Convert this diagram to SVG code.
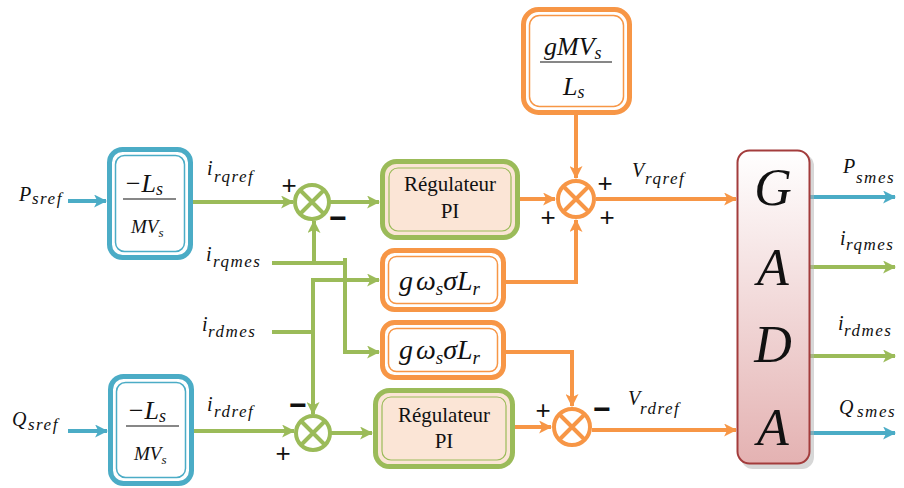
<svg xmlns="http://www.w3.org/2000/svg" width="904" height="488" viewBox="0 0 904 488">
<defs>
<style>
.m{font-style:italic;fill:#111}
.r{fill:#111}
.sg{font-family:'Liberation Sans',Arial,sans-serif;fill:#111;font-size:26px;text-anchor:middle}
.mn{font-family:'Liberation Sans',Arial,sans-serif;fill:#111;font-size:30px;text-anchor:middle;font-weight:bold}
.sub{letter-spacing:1.5px}
.cb{fill:none;stroke:#4bacc6;stroke-width:4}
.cg{fill:none;stroke:#9bbb59;stroke-width:4}
.co{fill:none;stroke:#f79646;stroke-width:4}
</style>
<linearGradient id="gada" x1="0" y1="0" x2="0" y2="1">
<stop offset="0" stop-color="#ffffff"/>
<stop offset="1" stop-color="#e4b2b2"/>
</linearGradient>
<marker id="ab" viewBox="0 0 12 12" refX="11" refY="6" markerWidth="13" markerHeight="13" markerUnits="userSpaceOnUse" orient="auto"><path d="M0,0 L12,6 L0,12 L3,6z" fill="#4bacc6"/></marker>
<marker id="ag" viewBox="0 0 12 12" refX="11" refY="6" markerWidth="13" markerHeight="13" markerUnits="userSpaceOnUse" orient="auto"><path d="M0,0 L12,6 L0,12 L3,6z" fill="#9bbb59"/></marker>
<marker id="ao" viewBox="0 0 12 12" refX="11" refY="6" markerWidth="13" markerHeight="13" markerUnits="userSpaceOnUse" orient="auto"><path d="M0,0 L12,6 L0,12 L3,6z" fill="#f79646"/></marker>
</defs>
<rect width="904" height="488" fill="#ffffff"/>

<g id="connectors">
<path class="cb" d="M68,201 H106" marker-end="url(#ab)"/>
<path class="cb" d="M68,431 H107" marker-end="url(#ab)"/>
<path class="cg" d="M193,202 H293" marker-end="url(#ag)"/>
<path class="cg" d="M330,202 H379" marker-end="url(#ag)"/>
<path class="cg" d="M272,263 H345"/>
<path class="cg" d="M345,258 V352 H379" marker-end="url(#ag)"/>
<path class="cg" d="M314,263 V221" marker-end="url(#ag)"/>
<path class="cg" d="M272,332 H313"/>
<path class="cg" d="M313,280 V414" marker-end="url(#ag)"/>
<path class="cg" d="M311,280 H379" marker-end="url(#ag)"/>
<path class="cg" d="M193,431 H294" marker-end="url(#ag)"/>
<path class="cg" d="M331,433 H372" marker-end="url(#ag)"/>
<path class="co" d="M576,115 V178" marker-end="url(#ao)"/>
<path class="co" d="M518,199 H555" marker-end="url(#ao)"/>
<path class="co" d="M505,282 H576 V220" marker-end="url(#ao)"/>
<path class="co" d="M596,199 H736" marker-end="url(#ao)"/>
<path class="co" d="M505,352 H572 V406" marker-end="url(#ao)"/>
<path class="co" d="M515,427 H551" marker-end="url(#ao)"/>
<path class="co" d="M592,430 H736" marker-end="url(#ao)"/>
<path class="cb" d="M810,197 H895" marker-end="url(#ab)"/>
<path class="cg" d="M810,267 H895" marker-end="url(#ag)"/>
<path class="cg" d="M810,356 H895" marker-end="url(#ag)"/>
<path class="cb" d="M810,433 H895" marker-end="url(#ab)"/>
</g>

<g font-family="'Liberation Serif','Times New Roman',serif">
<g id="labels">
<text class="m" x="19" y="201" font-size="20">P</text><text class="m sub" x="32" y="204" font-size="17">sref</text>
<text class="m" x="12" y="426" font-size="20">Q</text><text class="m sub" x="28" y="430" font-size="17">sref</text>
<text class="m" x="207" y="175" font-size="20">i</text><text class="m sub" x="214" y="182" font-size="17">rqref</text>
<text class="m" x="206" y="261" font-size="20">i</text><text class="m sub" x="213" y="267" font-size="17">rqmes</text>
<text class="m" x="202" y="331" font-size="20">i</text><text class="m sub" x="208" y="337" font-size="17">rdmes</text>
<text class="m" x="207" y="411" font-size="20">i</text><text class="m sub" x="214" y="417" font-size="17">rdref</text>
<text class="m" x="632" y="177" font-size="20">V</text><text class="m sub" x="645" y="184" font-size="17">rqref</text>
<text class="m" x="628" y="405" font-size="20">V</text><text class="m sub" x="640" y="414" font-size="17">rdref</text>
<text class="m" x="843" y="173" font-size="20">P</text><text class="m sub" x="856" y="183" font-size="17">smes</text>
<text class="m" x="840" y="245" font-size="20">i</text><text class="m sub" x="846" y="250" font-size="17">rqmes</text>
<text class="m" x="838" y="330" font-size="20">i</text><text class="m sub" x="844" y="336" font-size="17">rdmes</text>
<text class="m" x="839" y="414" font-size="20">Q</text><text class="m sub" x="857" y="417" font-size="17">smes</text>
</g>

<g id="gain_p">
<rect x="109.5" y="149.5" width="81" height="108" rx="13" fill="#fff" stroke="#4bacc6" stroke-width="5"/>
<rect x="115.5" y="155.5" width="69" height="96" rx="9" fill="none" stroke="#4bacc6" stroke-width="1.5"/>
<text class="m" x="124" y="192" font-size="26">−L<tspan font-size="18" dy="3">s</tspan></text>
<line x1="123" y1="199" x2="176" y2="199" stroke="#111" stroke-width="1.2"/>
<text class="m" x="131" y="233" font-size="19">MV<tspan font-size="13" dy="4">s</tspan></text>
</g>

<g id="gain_q">
<rect x="110.5" y="376.5" width="81" height="107" rx="13" fill="#fff" stroke="#4bacc6" stroke-width="5"/>
<rect x="116.5" y="382.5" width="69" height="95" rx="9" fill="none" stroke="#4bacc6" stroke-width="1.5"/>
<text class="m" x="127" y="419" font-size="26">−L<tspan font-size="18" dy="3">s</tspan></text>
<line x1="126" y1="426" x2="179" y2="426" stroke="#111" stroke-width="1.2"/>
<text class="m" x="134" y="460" font-size="19">MV<tspan font-size="13" dy="4">s</tspan></text>
</g>

<g id="pi_q">
<rect x="382.5" y="161.5" width="135" height="76" rx="14" fill="#fbe5d6" stroke="#9bbb59" stroke-width="5"/>
<rect x="389" y="168" width="122" height="63" rx="9" fill="none" stroke="#9bbb59" stroke-width="1.2"/>
<text class="r" x="450" y="191" font-size="21" text-anchor="middle">Régulateur</text>
<text class="r" x="450" y="218" font-size="21" text-anchor="middle">PI</text>
</g>

<g id="pi_d">
<rect x="375.5" y="390.5" width="137" height="76" rx="14" fill="#fbe5d6" stroke="#9bbb59" stroke-width="5"/>
<rect x="382" y="397" width="124" height="63" rx="9" fill="none" stroke="#9bbb59" stroke-width="1.2"/>
<text class="r" x="444" y="422" font-size="21" text-anchor="middle">Régulateur</text>
<text class="r" x="444" y="448" font-size="21" text-anchor="middle">PI</text>
</g>

<g id="gws_1">
<rect x="382.5" y="250.5" width="121" height="59" rx="12" fill="#fff" stroke="#f79646" stroke-width="5"/>
<rect x="388.5" y="256.5" width="109" height="47" rx="8" fill="none" stroke="#f79646" stroke-width="1.5"/>
<text class="m" x="399" y="290" font-size="28">g<tspan dx="3">ω</tspan><tspan font-size="19" dy="5">s</tspan><tspan dy="-5">σL</tspan><tspan font-size="19" dy="5">r</tspan></text>
</g>

<g id="gws_2">
<rect x="382.5" y="322.5" width="121" height="55" rx="12" fill="#fff" stroke="#f79646" stroke-width="5"/>
<rect x="388.5" y="328.5" width="109" height="43" rx="8" fill="none" stroke="#f79646" stroke-width="1.5"/>
<text class="m" x="399" y="359" font-size="28">g<tspan dx="3">ω</tspan><tspan font-size="19" dy="5">s</tspan><tspan dy="-5">σL</tspan><tspan font-size="19" dy="5">r</tspan></text>
</g>

<g id="gain_v">
<rect x="523.5" y="9.5" width="106" height="103" rx="15" fill="#fff" stroke="#f79646" stroke-width="5"/>
<rect x="529.5" y="15.5" width="94" height="91" rx="10" fill="none" stroke="#f79646" stroke-width="1.5"/>
<text class="m" x="544" y="55" font-size="26">gMV<tspan font-size="18" dy="4">s</tspan></text>
<line x1="540" y1="62" x2="612" y2="62" stroke="#111" stroke-width="1.2"/>
<text class="m" x="563" y="95" font-size="26">L<tspan font-size="18" dy="3">s</tspan></text>
</g>

<g id="gada_block">
<rect x="741" y="154" width="73" height="315" rx="12" fill="#b0b0b0" opacity="0.5"/>
<rect x="737.5" y="150.5" width="72" height="313" rx="12" fill="url(#gada)" stroke="#a33c3c" stroke-width="2"/>
<text class="m" x="773" y="205" font-size="52" text-anchor="middle">G</text>
<text class="m" x="773" y="285" font-size="52" text-anchor="middle">A</text>
<text class="m" x="773" y="362" font-size="52" text-anchor="middle">D</text>
<text class="m" x="773" y="445" font-size="52" text-anchor="middle">A</text>
</g>
</g>

<g id="signs">
<text class="sg" x="289" y="194">+</text>
<text class="mn" x="338" y="228">−</text>
<text class="sg" x="605" y="192">+</text>
<text class="sg" x="548" y="226">+</text>
<text class="sg" x="607" y="226">+</text>
<text class="mn" x="298" y="415">−</text>
<text class="sg" x="283" y="462">+</text>
<text class="sg" x="543" y="419">+</text>
<text class="mn" x="602" y="419">−</text>
</g>

<g id="sum_q">
<circle cx="312" cy="202" r="17" fill="#fff" stroke="#9bbb59" stroke-width="4"/>
<path d="M300,190 L324,214 M324,190 L300,214" stroke="#9bbb59" stroke-width="4"/>
</g>

<g id="sum_d">
<circle cx="313" cy="433" r="17" fill="#fff" stroke="#9bbb59" stroke-width="4"/>
<path d="M301,421 L325,445 M325,421 L301,445" stroke="#9bbb59" stroke-width="4"/>
</g>

<g id="sum_vq">
<circle cx="576" cy="199" r="18" fill="#fff" stroke="#f79646" stroke-width="4"/>
<path d="M563,186 L589,212 M589,186 L563,212" stroke="#f79646" stroke-width="4"/>
</g>

<g id="sum_vd">
<circle cx="572" cy="427" r="18" fill="#fff" stroke="#f79646" stroke-width="4"/>
<path d="M559,414 L585,440 M585,414 L559,440" stroke="#f79646" stroke-width="4"/>
</g>
</svg>
